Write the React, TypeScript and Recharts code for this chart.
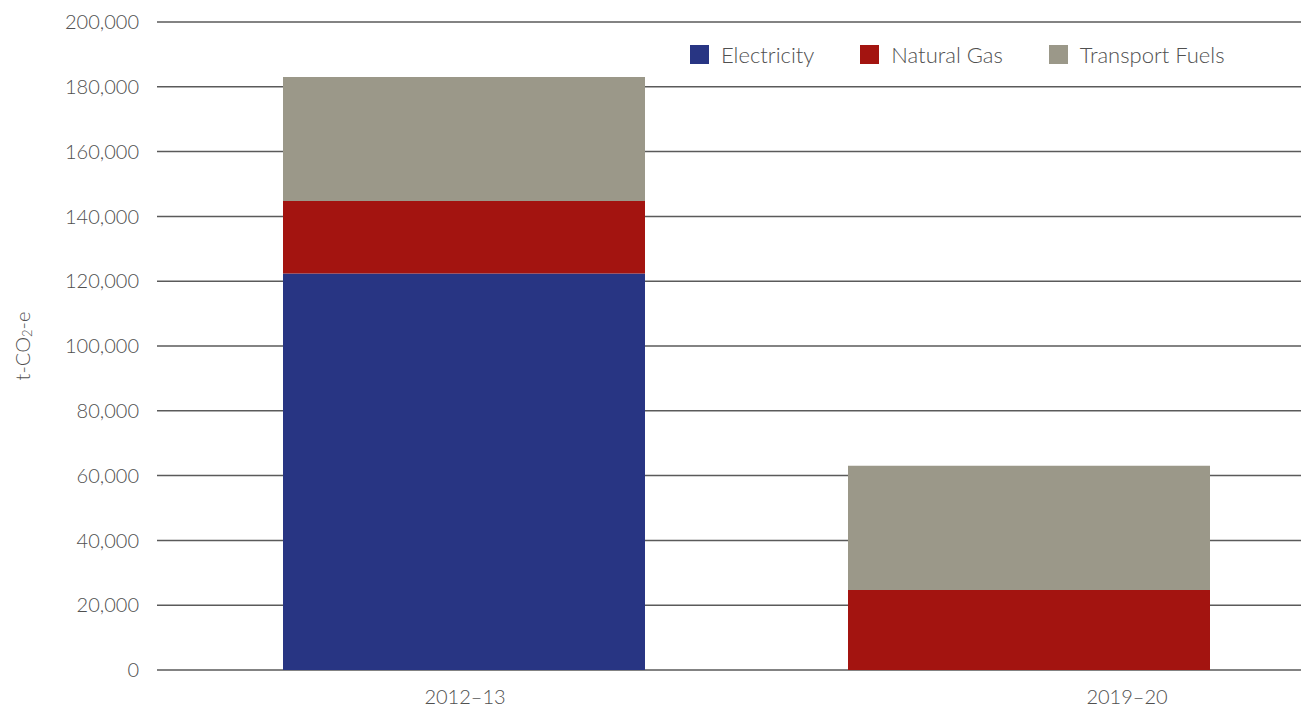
import { Bar, BarChart, CartesianGrid, XAxis, YAxis } from "recharts";

const years = ["2012–13", "2019–20"];
const electricity = [122400, 0];
const naturalGas = [22350, 24700];
const transportFuels = [38250, 38350];
const yTicks = [0, 20000, 40000, 60000, 80000, 100000, 120000, 140000, 160000, 180000, 200000];

const series = [
  { key: "electricity", label: "Electricity", color: "#283583" },
  { key: "naturalGas", label: "Natural Gas", color: "#a31410" },
  { key: "transportFuels", label: "Transport Fuels", color: "#9b9889" },
];

const data = years.map((year, i) => ({
  year,
  electricity: electricity[i],
  naturalGas: naturalGas[i],
  transportFuels: transportFuels[i],
}));

const FONT = "Lato, 'Open Sans', sans-serif";
const TEXT = "#505050";

function YLabel({ viewBox }: any) {
  const cx = 22;
  const cy = viewBox ? viewBox.y + viewBox.height / 2 : 345;
  return (
    <text
      x={cx}
      y={cy}
      transform={`rotate(-90 ${cx} ${cy})`}
      textAnchor="middle"
      dominantBaseline="central"
      fill={TEXT}
      fontSize={20}
      fontWeight={300}
      fontFamily={FONT}
    >
      t-CO
      <tspan fontSize={13} dy={5}>2</tspan>
      <tspan dy={-5}>-e</tspan>
    </text>
  );
}

function LegendBox() {
  return (
    <div
      style={{
        position: "absolute",
        top: 41,
        left: 690,
        display: "flex",
        alignItems: "center",
        fontFamily: FONT,
        fontWeight: 300,
        fontSize: 22,
        color: TEXT,
      }}
    >
      {series.map((s, i) => (
        <div key={s.key} style={{ display: "flex", alignItems: "center", marginRight: i < series.length - 1 ? 46 : 0 }}>
          <span style={{ width: 19, height: 19, background: s.color, marginRight: 12, display: "inline-block" }} />
          <span>{s.label}</span>
        </div>
      ))}
    </div>
  );
}

export default function App() {
  return (
    <div style={{ width: 1301, height: 715, position: "relative" }}>
      <style>{"body{margin:0}"}</style>
      <BarChart width={1301} height={715} data={data} margin={{ top: 22, right: 0, left: 0, bottom: 15 }}>
        <CartesianGrid vertical={false} stroke="#5a5a5a" strokeWidth={1.5} />
        <XAxis xAxisId="bars" dataKey="year" hide height={0} padding={{ left: 24, right: -10 }} />
        <XAxis
          xAxisId="labels"
          dataKey="year"
          height={30}
          axisLine={false}
          tickLine={false}
          tickSize={0}
          tickMargin={20}
          padding={{ left: -23, right: -157 }}
          tick={{ fill: TEXT, fontSize: 20, fontWeight: 300, fontFamily: FONT }}
        />
        <YAxis
          width={157}
          domain={[0, 200000]}
          ticks={yTicks}
          axisLine={false}
          tickLine={false}
          tickSize={18}
          tickMargin={0}
          tickFormatter={(v: number) => v.toLocaleString("en-US")}
          tick={{ fill: TEXT, fontSize: 20, fontWeight: 300, fontFamily: FONT }}
          label={<YLabel />}
        />
        {series.map((s) => (
          <Bar
            key={s.key}
            xAxisId="bars"
            dataKey={s.key}
            name={s.label}
            stackId="a"
            fill={s.color}
            barSize={362}
            isAnimationActive={false}
          />
        ))}
      </BarChart>
      <LegendBox />
    </div>
  );
}
